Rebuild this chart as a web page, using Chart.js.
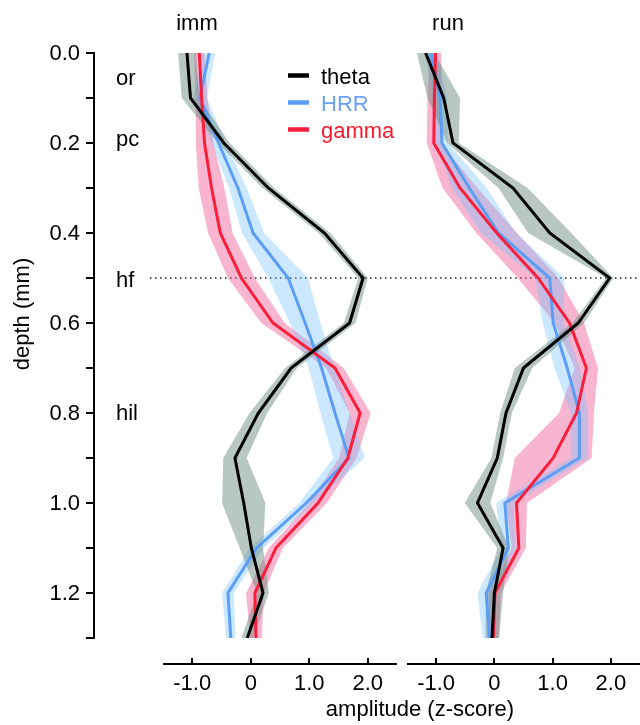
<!DOCTYPE html>
<html>
<head>
<meta charset="utf-8">
<script src="https://cdn.jsdelivr.net/npm/chart.js@4.4.1/dist/chart.umd.min.js"></script>
<style>
  html, body { margin: 0; padding: 0; background: #fff; }
  #wrap { position: relative; width: 640px; height: 725px; background: #fff; }
  #wrap canvas { position: absolute; left: 0; top: 0; }
</style>
</head>
<body>
<div id="wrap">
  <canvas id="immChart" width="640" height="725"></canvas>
  <canvas id="runChart" width="640" height="725"></canvas>
</div>
<script>
// depth of each recording site (mm)
const depth = [0.0, 0.1, 0.2, 0.3, 0.4, 0.5, 0.6, 0.7, 0.8, 0.9, 1.0, 1.1, 1.2, 1.3];

// immobility
const immTheta    = [-1.09, -1.03, -0.46, 0.30, 1.26, 1.92, 1.69, 0.69, 0.13, -0.27, -0.12, 0.01, 0.21, -0.06];
const immThetaErr = [0.15, 0.15, 0.10, 0.10, 0.10, 0.08, 0.10, 0.10, 0.15, 0.20, 0.37, 0.20, 0.10, 0.10];
const immHRR      = [-0.71, -0.87, -0.55, -0.22, 0.04, 0.64, 0.93, 1.21, 1.44, 1.68, 0.95, 0.10, -0.39, -0.34];
const immHRRErr   = [0.10, 0.12, 0.12, 0.15, 0.19, 0.34, 0.26, 0.22, 0.25, 0.27, 0.12, 0.12, 0.10, 0.08];
const immGamma    = [-0.88, -0.84, -0.79, -0.67, -0.52, -0.16, 0.38, 1.44, 1.87, 1.66, 1.15, 0.43, 0.07, 0.09];
const immGammaErr = [0.09, 0.10, 0.15, 0.22, 0.21, 0.23, 0.20, 0.15, 0.18, 0.15, 0.15, 0.12, 0.15, 0.10];

// running
const runTheta    = [-1.18, -0.87, -0.71, 0.32, 0.95, 1.98, 1.44, 0.50, 0.20, 0.05, -0.29, 0.15, 0.00, -0.04];
const runThetaErr = [0.15, 0.28, 0.10, 0.25, 0.37, 0.06, 0.10, 0.15, 0.10, 0.10, 0.22, 0.10, 0.15, 0.12];
const runHRR      = [-1.09, -0.93, -0.90, -0.43, 0.07, 0.95, 1.01, 1.25, 1.46, 1.46, 0.18, 0.24, -0.14, -0.08];
const runHRRErr   = [0.10, 0.12, 0.10, 0.30, 0.30, 0.25, 0.18, 0.22, 0.15, 0.15, 0.15, 0.12, 0.15, 0.12];
const runGamma    = [-1.01, -1.03, -1.04, -0.59, 0.04, 0.75, 1.29, 1.58, 1.41, 1.01, 0.38, 0.42, 0.01, -0.02];
const runGammaErr = [0.10, 0.12, 0.12, 0.30, 0.35, 0.35, 0.25, 0.20, 0.30, 0.66, 0.18, 0.12, 0.10, 0.10];

// axes
const depthTicks  = [0.0, 0.1, 0.2, 0.3, 0.4, 0.5, 0.6, 0.7, 0.8, 0.9, 1.0, 1.1, 1.2, 1.3];
const depthLabels = ['0.0', '', '0.2', '', '0.4', '', '0.6', '', '0.8', '', '1.0', '', '1.2', ''];
const ampTicks    = [-1, 0, 1, 2];
const ampLabels   = ['-1.0', '0', '1.0', '2.0'];

// hippocampal layers
const layerNames = ['or', 'pc', 'hf', 'hil'];
const layerDepth = [0.055, 0.19, 0.505, 0.80];
const hfDepth = 0.5;

const FONT = '22px "Liberation Sans", Arial, Helvetica, sans-serif';
const thetaColor = '#000000';
const hrrColor   = '#5b9ef4';
const gammaColor = '#f81e3c';
const thetaBand  = 'rgba(107, 137, 127, 0.48)';
const hrrBand    = 'rgba(115, 190, 252, 0.36)';
const gammaBand  = 'rgba(240, 90, 150, 0.45)';

function pts(vals){
    return vals.map((v, i) => ({x: v, y: depth[i]}));
}

function buildDatasets(series){
    const sets = [];
    for(const s of series){
        const loIndex = sets.length;
        sets.push({
            label: s.label + ' lo',
            data: pts(s.mean.map((v, i) => v - s.err[i])),
            borderWidth: 0, pointRadius: 0, fill: false, order: s.bandOrder
        });
        sets.push({
            label: s.label + ' hi',
            data: pts(s.mean.map((v, i) => v + s.err[i])),
            borderWidth: 0, pointRadius: 0, backgroundColor: s.band, fill: loIndex, order: s.bandOrder
        });
        sets.push({
            label: s.label,
            data: pts(s.mean),
            borderColor: s.color, borderWidth: 3, pointRadius: 0, fill: false, order: s.lineOrder
        });
    }
    return sets;
}

function panelSeries(theta, thetaErr, hrr, hrrErr, gamma, gammaErr){
    return [
        {label: 'gamma', mean: gamma, err: gammaErr, color: gammaColor, band: gammaBand, lineOrder: 1, bandOrder: 5},
        {label: 'HRR',   mean: hrr,   err: hrrErr,   color: hrrColor,   band: hrrBand,   lineOrder: 2, bandOrder: 4},
        {label: 'theta', mean: theta, err: thetaErr, color: thetaColor, band: thetaBand, lineOrder: 0, bandOrder: 3}
    ];
}

// x axis drawn detached below the plot
function drawAmpAxis(chart){
    const ctx = chart.ctx;
    const xs = chart.scales.x;
    const yAxis = 664;
    ctx.save();
    ctx.strokeStyle = '#000';
    ctx.lineWidth = 2;
    ctx.beginPath();
    ctx.moveTo(xs.getPixelForValue(xs.min), yAxis);
    ctx.lineTo(xs.getPixelForValue(xs.max), yAxis);
    for(const t of ampTicks){
        const px = Math.round(xs.getPixelForValue(t));
        ctx.moveTo(px, yAxis);
        ctx.lineTo(px, yAxis - 6);
    }
    ctx.stroke();
    ctx.fillStyle = '#000';
    ctx.font = FONT;
    ctx.textAlign = 'center';
    ctx.textBaseline = 'alphabetic';
    ampTicks.forEach((t, i) => ctx.fillText(ampLabels[i], xs.getPixelForValue(t), 690));
    ctx.restore();
}

const immChrome = {
    id: 'immChrome',
    beforeDatasetsDraw(chart){
        const ctx = chart.ctx;
        const ys = chart.scales.y;
        // dotted line at hippocampal fissure, spans both panels
        ctx.save();
        ctx.strokeStyle = '#222';
        ctx.lineWidth = 1.5;
        ctx.setLineDash([1.5, 3.5]);
        ctx.beginPath();
        ctx.moveTo(150, ys.getPixelForValue(hfDepth));
        ctx.lineTo(640, ys.getPixelForValue(hfDepth));
        ctx.stroke();
        ctx.restore();
    },
    afterDraw(chart){
        const ctx = chart.ctx;
        const ys = chart.scales.y;
        const axisX = 94;
        ctx.save();
        // depth axis
        ctx.strokeStyle = '#000';
        ctx.lineWidth = 2;
        ctx.beginPath();
        ctx.moveTo(axisX, ys.getPixelForValue(depthTicks[0]) - 1);
        ctx.lineTo(axisX, ys.getPixelForValue(depthTicks[depthTicks.length - 1]) + 1);
        for(const t of depthTicks){
            const py = Math.round(ys.getPixelForValue(t));
            ctx.moveTo(axisX, py);
            ctx.lineTo(axisX - 8, py);
        }
        ctx.stroke();

        ctx.fillStyle = '#000';
        ctx.font = FONT;
        ctx.textAlign = 'right';
        ctx.textBaseline = 'middle';
        depthTicks.forEach((t, i) => {
            if(depthLabels[i]) ctx.fillText(depthLabels[i], 80, ys.getPixelForValue(t) + 1);
        });

        // layer names
        ctx.textAlign = 'left';
        ctx.textBaseline = 'alphabetic';
        layerNames.forEach((n, i) => ctx.fillText(n, 116, ys.getPixelForValue(layerDepth[i]) + 7));

        // axis titles
        ctx.textAlign = 'center';
        ctx.fillText('imm', 197, 30);
        ctx.fillText('amplitude (z-score)', 420, 716);
        ctx.save();
        ctx.translate(29, 314);
        ctx.rotate(-Math.PI / 2);
        ctx.fillText('depth (mm)', 0, 0);
        ctx.restore();

        // legend
        const legend = [
            {label: 'theta', color: thetaColor, text: '#000000'},
            {label: 'HRR',   color: hrrColor,   text: '#6aa0f6'},
            {label: 'gamma', color: gammaColor, text: '#fb1a2a'}
        ];
        ctx.textAlign = 'left';
        legend.forEach((l, i) => {
            const cy = 75.5 + i * 27;
            ctx.strokeStyle = l.color;
            ctx.lineWidth = 4.5;
            ctx.beginPath();
            ctx.moveTo(288, cy);
            ctx.lineTo(309, cy);
            ctx.stroke();
            ctx.fillStyle = l.text;
            ctx.fillText(l.label, 321, cy + 8);
        });
        ctx.restore();

        drawAmpAxis(chart);
    }
};

const runChrome = {
    id: 'runChrome',
    afterDraw(chart){
        const ctx = chart.ctx;
        ctx.save();
        ctx.fillStyle = '#000';
        ctx.font = FONT;
        ctx.textAlign = 'center';
        ctx.textBaseline = 'alphabetic';
        ctx.fillText('run', 448, 30);
        ctx.restore();
        drawAmpAxis(chart);
    }
};

function makeChart(id, series, padding, plugin){
    return new Chart(document.getElementById(id), {
        type: 'line',
        data: { datasets: buildDatasets(series) },
        options: {
            indexAxis: 'y',
            responsive: false,
            animation: false,
            events: [],
            layout: { padding: padding },
            elements: { line: { tension: 0, borderJoinStyle: 'miter' } },
            scales: {
                x: { type: 'linear', min: -1.5, max: 2.5, display: false },
                y: { type: 'linear', min: 0, max: 1.3, reverse: true, display: false }
            },
            plugins: {
                legend: { display: false },
                tooltip: { enabled: false }
            }
        },
        plugins: [plugin]
    });
}

const immChart = makeChart('immChart',
    panelSeries(immTheta, immThetaErr, immHRR, immHRRErr, immGamma, immGammaErr),
    {left: 163, right: 243, top: 53, bottom: 87}, immChrome);

const runChart = makeChart('runChart',
    panelSeries(runTheta, runThetaErr, runHRR, runHRRErr, runGamma, runGammaErr),
    {left: 407, right: 0, top: 53, bottom: 87}, runChrome);
</script>
</body>
</html>
